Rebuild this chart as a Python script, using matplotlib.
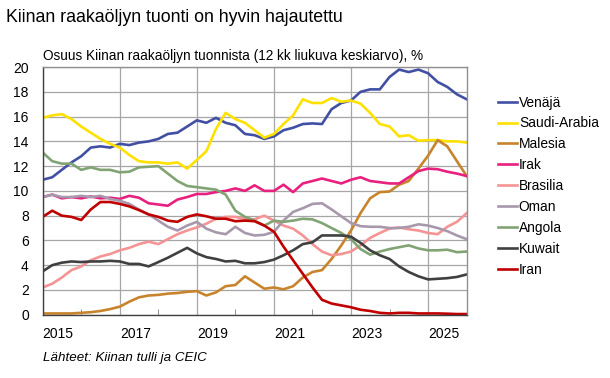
import numpy as np
import pandas as pd
import matplotlib
matplotlib.use("Agg")
import matplotlib.pyplot as plt

plt.rcParams['font.family'] = ['Liberation Sans', 'DejaVu Sans']

dates = pd.date_range('2015-01-01', periods=45, freq='QS')

venaja = [10.9, 11.1, 11.7, 12.3, 12.8, 13.5, 13.6, 13.5, 13.8, 13.7, 13.9,
          14.0, 14.2, 14.6, 14.7, 15.2, 15.7, 15.5, 15.9, 15.5, 15.3, 14.6,
          14.5, 14.2, 14.4, 14.9, 15.1, 15.4, 15.45, 15.4, 16.6, 17.1, 17.3,
          18.0, 18.2, 18.2, 19.2, 19.8, 19.6, 19.8, 19.5, 18.8, 18.4, 17.8, 17.4]
saudi = [15.9, 16.1, 16.2, 15.8, 15.2, 14.7, 14.2, 13.8, 13.5, 12.9, 12.4,
         12.3, 12.3, 12.2, 12.3, 11.8, 12.5, 13.2, 15.0, 16.3, 15.8, 15.5,
         14.9, 14.3, 14.6, 15.4, 16.1, 17.4, 17.1, 17.1, 17.5, 17.2, 17.3,
         17.05, 16.3, 15.4, 15.2, 14.4, 14.5, 14.05, 14.1, 14.1, 14.0, 14.0, 13.9]
malesia = [0.1, 0.1, 0.1, 0.1, 0.15, 0.2, 0.3, 0.45, 0.65, 1.05, 1.4,
           1.55, 1.6, 1.7, 1.75, 1.85, 1.9, 1.55, 1.8, 2.3, 2.4, 3.1,
           2.6, 2.1, 2.2, 2.05, 2.3, 3.0, 3.45, 3.6, 4.5, 5.6, 6.8,
           8.2, 9.4, 9.9, 9.95, 10.5, 10.8, 11.8, 12.85, 14.1, 13.6, 12.4, 11.2]
irak = [9.5, 9.7, 9.4, 9.5, 9.4, 9.55, 9.4, 9.45, 9.35, 9.6, 9.45,
        9.0, 8.9, 8.8, 9.3, 9.5, 9.75, 9.75, 9.9, 10.0, 10.2, 10.0,
        10.45, 10.0, 10.0, 10.5, 9.9, 10.6, 10.8, 11.0, 10.8, 10.6, 10.9,
        11.1, 10.8, 10.7, 10.6, 10.6, 11.1, 11.6, 11.8, 11.75, 11.55, 11.4, 11.2]
brasilia = [2.2, 2.5, 3.0, 3.6, 3.9, 4.4, 4.7, 4.9, 5.2, 5.4, 5.7,
            5.9, 5.7, 6.1, 6.5, 6.8, 7.05, 7.35, 7.75, 7.9, 7.9, 7.75,
            7.7, 8.0, 7.6, 7.2, 6.95, 6.4, 5.7, 5.1, 4.8, 4.9, 5.1,
            5.6, 6.2, 6.6, 6.95, 7.05, 6.9, 6.8, 6.6, 6.5, 7.1, 7.5, 8.2]
oman = [9.5, 9.7, 9.5, 9.5, 9.6, 9.5, 9.6, 9.35, 9.2, 8.95, 8.5,
        8.1, 7.6, 7.1, 6.8, 7.2, 7.5, 6.95, 6.65, 6.5, 7.1, 6.6,
        6.4, 6.45, 6.7, 7.6, 8.3, 8.6, 8.95, 9.0, 8.5, 7.95, 7.4,
        7.15, 7.1, 7.1, 7.0, 7.0, 7.1, 7.3, 7.2, 7.0, 6.75, 6.4, 6.1]
angola = [13.1, 12.4, 12.2, 12.2, 11.7, 11.9, 11.7, 11.7, 11.5, 11.55, 11.9,
          11.95, 12.0, 11.4, 10.8, 10.4, 10.3, 10.2, 10.1, 9.7, 8.4, 7.9,
          7.6, 7.2, 7.6, 7.5, 7.6, 7.75, 7.7, 7.4, 7.0, 6.6, 6.1,
          5.3, 4.85, 5.1, 5.3, 5.45, 5.6, 5.35, 5.2, 5.2, 5.25, 5.05, 5.1]
kuwait = [3.5, 4.0, 4.2, 4.3, 4.25, 4.3, 4.3, 4.35, 4.3, 4.1, 4.1,
          3.9, 4.25, 4.6, 5.0, 5.4, 4.95, 4.65, 4.5, 4.3, 4.35, 4.15,
          4.15, 4.25, 4.45, 4.8, 5.2, 5.7, 5.85, 6.4, 6.4, 6.4, 6.3,
          5.8, 5.2, 4.8, 4.5, 3.9, 3.45, 3.1, 2.85, 2.9, 2.95, 3.05, 3.25]
iran = [7.9, 8.4, 8.0, 7.9, 7.65, 8.5, 9.1, 9.1, 8.95, 8.75, 8.45,
        8.1, 7.9, 7.6, 7.5, 7.9, 8.1, 7.95, 7.75, 7.75, 7.55, 7.6,
        7.55, 7.2, 6.7, 5.5, 4.4, 3.3, 2.2, 1.2, 0.9, 0.75, 0.6,
        0.4, 0.3, 0.15, 0.1, 0.15, 0.15, 0.1, 0.1, 0.1, 0.08, 0.05, 0.05]

names = ['Venäjä', 'Saudi-Arabia', 'Malesia', 'Irak', 'Brasilia',
         'Oman', 'Angola', 'Kuwait', 'Iran']
series = [venaja, saudi, malesia, irak, brasilia, oman, angola, kuwait, iran]
colors = ['#4250A4', '#FFE100', '#C8842C', '#E8207F', '#F49494',
          '#A898AC', '#82A474', '#404040', '#C00000']

fig = plt.figure(figsize=(6.10, 3.78), dpi=100)
ax = fig.add_axes([0.070, 0.1675, 0.695, 0.655])

for name, vals, c in zip(names, series, colors):
    ax.plot(dates, vals, color=c, lw=1.9, label=name, solid_joinstyle='round')

ax.set_ylim(0, 20)
ax.set_yticks(np.arange(0, 21, 2))
ax.set_xlim(pd.Timestamp('2015-01-01'), pd.Timestamp('2026-01-01'))
major = [pd.Timestamp(f'{y}-01-01') for y in range(2015, 2026, 2)]
minor = [pd.Timestamp(f'{y}-01-01') for y in range(2016, 2026, 2)]
ax.set_xticks(major)
ax.set_xticklabels([str(y) for y in range(2015, 2026, 2)], ha='left')
ax.set_xticks(minor, minor=True)

ax.grid(True, axis='y', color='#A6A6A6', lw=0.9)
ax.grid(True, axis='x', which='major', color='#A6A6A6', lw=0.9)
ax.set_axisbelow(True)
ax.tick_params(axis='y', length=0, labelsize=10, pad=10, colors='#000000')
ax.tick_params(axis='x', which='major', length=0, labelsize=10, pad=9)
ax.tick_params(axis='x', which='minor', direction='in', length=4, color='#808080')
for s in ['left', 'bottom']:
    ax.spines[s].set_color('#404040')
    ax.spines[s].set_linewidth(1.0)
for s in ['top', 'right']:
    ax.spines[s].set_color('#909090')
    ax.spines[s].set_linewidth(1.0)

fig.text(6 / 610, 1 - 18 / 378, 'Kiinan raakaöljyn tuonti on hyvin hajautettu',
         fontsize=12.8, va='center', ha='left')
fig.text(43 / 610, 1 - 56 / 378,
         'Osuus Kiinan raakaöljyn tuonnista (12 kk liukuva keskiarvo), %',
         fontsize=9.8, va='center', ha='left')
fig.text(43 / 610, 1 - 358 / 378, 'Lähteet: Kiinan tulli ja CEIC',
         fontsize=9.6, style='italic', va='center', ha='left')

leg = fig.legend(loc='upper left', bbox_to_anchor=(492 / 610, 1 - 90 / 378),
                 frameon=False, fontsize=9.9, handlelength=1.45,
                 handletextpad=0.1, labelspacing=0.5, borderaxespad=0)

fig.savefig('out.png', dpi=100)
